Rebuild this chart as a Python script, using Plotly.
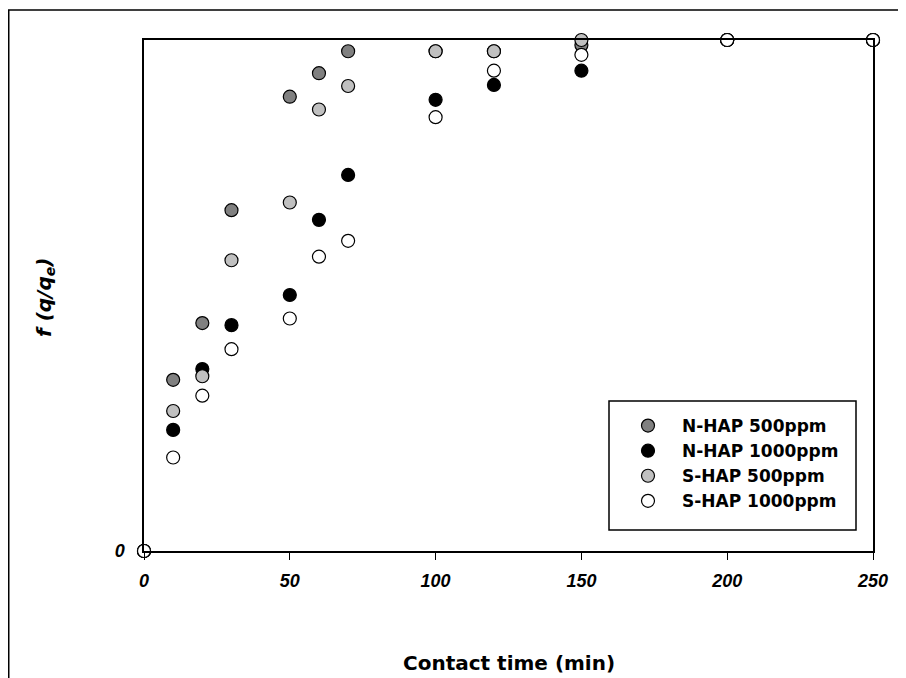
import plotly.graph_objects as go

# Temps de contact (min)
time_min = [0, 10, 20, 30, 50, 60, 70, 100, 120, 150, 200, 250]

# f(q/qe) par série
n_hap_500 = [0, 0.335, 0.446, 0.667, 0.889, 0.935, 0.978, 0.978, 0.978, 0.990, 1.0, 1.0]
n_hap_1000 = [0, 0.237, 0.356, 0.442, 0.501, 0.648, 0.736, 0.883, 0.912, 0.940, 1.0, 1.0]
s_hap_500 = [0, 0.274, 0.342, 0.569, 0.682, 0.864, 0.910, 0.978, 0.978, 1.000, 1.0, 1.0]
s_hap_1000 = [0, 0.183, 0.304, 0.395, 0.455, 0.576, 0.607, 0.849, 0.940, 0.971, 1.0, 1.0]

series = [
    ("N-HAP 500ppm", n_hap_500, "#808080"),
    ("N-HAP 1000ppm", n_hap_1000, "#000000"),
    ("S-HAP 500ppm", s_hap_500, "#c0c0c0"),
    ("S-HAP 1000ppm", s_hap_1000, "#ffffff"),
]

FONT = "Liberation Sans, Arial, sans-serif"
WIDE = "DejaVu Sans, Verdana, sans-serif"

# Zone de tracé (coordonnées de la figure, la page ajoute 8 px de marge)
L, R, T, B = 136, 865, 32, 543
W, H = R - L, B - T


def px(x):
    return (x - L) / W


def py(y):
    return (B - y) / H


fig = go.Figure()

for name, values, color in series:
    fig.add_trace(go.Scatter(
        x=time_min,
        y=values,
        mode='markers',
        name=name,
        marker=dict(size=13, color=color, line=dict(color='black', width=1.2)),
        cliponaxis=False,
    ))

fig.update_layout(
    width=898,
    height=670,
    plot_bgcolor='white',
    paper_bgcolor='white',
    margin=dict(l=L, r=898 - R, t=T, b=670 - B),
    font=dict(family=FONT, color='black'),
    showlegend=True,
    legend=dict(
        x=px(606),
        y=py(400),
        xanchor='left',
        yanchor='top',
        bgcolor='rgba(0,0,0,0)',
        borderwidth=0,
        itemwidth=58,
        font=dict(family=WIDE, size=17, color='black', weight='bold'),
    ),
)

fig.update_xaxes(
    range=[0, 250],
    tickvals=[0, 50, 100, 150, 200, 250],
    ticks='outside',
    ticklen=7,
    tickwidth=1,
    tickcolor='black',
    showline=True,
    linecolor='black',
    linewidth=1.5,
    mirror=True,
    showgrid=False,
    zeroline=False,
    ticklabelstandoff=6,
    tickfont=dict(family=FONT, size=18, weight='bold', style='italic'),
)

fig.update_yaxes(
    range=[0, 1],
    tickvals=[0],
    ticks='',
    showline=True,
    linecolor='black',
    linewidth=1.5,
    mirror=True,
    showgrid=False,
    zeroline=False,
    ticklabelstandoff=14,
    tickfont=dict(family=FONT, size=18, weight='bold', style='italic'),
)

# Cadre de la légende
fig.add_shape(
    type='rect', xref='paper', yref='paper',
    x0=px(601), x1=px(848),
    y0=py(522), y1=py(393),
    line=dict(color='black', width=1.5),
    fillcolor='rgba(0,0,0,0)',
)

# Cadre extérieur
fig.add_shape(
    type='rect', xref='paper', yref='paper',
    x0=px(0.75), x1=px(920),
    y0=py(700), y1=py(2),
    line=dict(color='black', width=1.5),
    fillcolor='rgba(0,0,0,0)',
    layer='below',
)

# Titres des axes
fig.add_annotation(
    x=0.5, y=py(655), xref='paper', yref='paper',
    text='<b>Contact time (min)</b>',
    showarrow=False,
    font=dict(family=WIDE, size=20),
    xanchor='center', yanchor='middle',
)

fig.add_annotation(
    x=px(37), y=py(290), xref='paper', yref='paper',
    text='<b><i>f (q/q<sub>e</sub>)</i></b>',
    showarrow=False,
    textangle=-90,
    font=dict(family=WIDE, size=20),
    xanchor='center', yanchor='middle',
)

fig.write_html("out.html")
